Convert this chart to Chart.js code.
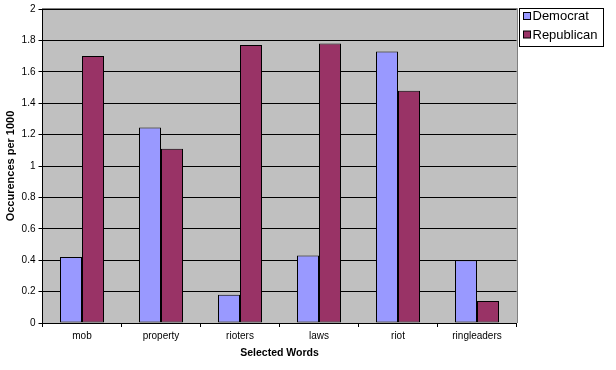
<!DOCTYPE html>
<html><head><meta charset="utf-8">
<script src="https://cdn.jsdelivr.net/npm/chart.js@4/dist/chart.umd.min.js"></script>
<style>html,body{margin:0;padding:0;background:#fff}#wrap{width:616px;height:370px}</style>
</head><body><div id="wrap"><canvas id="c" width="616" height="370"></canvas></div>
<script>
const categories = ["mob","property","rioters","laws","riot","ringleaders"];
const democrat = [0.42,1.245,0.18,0.43,1.73,0.40];
const republican = [1.70,1.11,1.77,1.78,1.48,0.14];
const yTicks = [0,0.2,0.4,0.6,0.8,1,1.2,1.4,1.6,1.8,2];

const FONT = '"Liberation Sans", Arial, sans-serif';

const bgPlugin = {
  id:'bg',
  beforeDraw(chart){
    const {ctx, chartArea:a} = chart;
    ctx.save();
    ctx.fillStyle = '#C0C0C0';
    ctx.fillRect(Math.floor(a.left), a.top, Math.ceil(a.right)-Math.floor(a.left), a.bottom-a.top);
    ctx.restore();
  },
  afterDraw(chart){
    const {ctx, chartArea:a} = chart;
    ctx.save();
    ctx.strokeStyle = '#808080';
    ctx.lineWidth = 1;
    ctx.beginPath();
    ctx.moveTo(Math.floor(a.left), Math.round(a.top)-0.5); ctx.lineTo(Math.ceil(a.right)+0.5, Math.round(a.top)-0.5); ctx.lineTo(Math.ceil(a.right)+0.5, a.bottom);
    ctx.stroke();
    // legend
    const x0=519.5, y0=8.5, w=84, h=38;
    ctx.fillStyle='#fff'; ctx.fillRect(x0,y0,w,h);
    ctx.strokeStyle='#000'; ctx.strokeRect(x0,y0,w,h);
    ctx.font = '13px ' + FONT;
    ctx.textBaseline='middle';
    chart.data.datasets.forEach((ds,i)=>{
      const cy = 16 + i*18.5;
      ctx.fillStyle=ds.backgroundColor; ctx.fillRect(x0+4, cy-3.5, 7, 7);
      ctx.strokeStyle='#000'; ctx.strokeRect(x0+4, cy-3.5, 7, 7);
      ctx.fillStyle='#000'; ctx.fillText(ds.label, x0+13, cy+0.5);
    });
    ctx.restore();
  }
};

new Chart(document.getElementById('c'), {
  type:'bar',
  data:{
    labels: categories,
    datasets:[
      {label:'Democrat', data: democrat, backgroundColor:'#9999FF', borderColor:'#000', borderWidth:1, borderSkipped:false},
      {label:'Republican', data: republican, backgroundColor:'#993366', borderColor:'#000', borderWidth:1, borderSkipped:false}
    ]
  },
  plugins:[bgPlugin],
  options:{
    responsive:false, animation:false, devicePixelRatio:1,
    layout:{padding:{top:9, right:99.5, left:4, bottom:11}},
    datasets:{bar:{barPercentage:1, categoryPercentage:44/79}},
    plugins:{legend:{display:false}, tooltip:{enabled:false}},
    scales:{
      x:{
        afterFit(s){ s.height = 36; },
        grid:{offset:true, drawOnChartArea:false, drawTicks:true, tickLength:4, color:'#000'},
        border:{color:'#000'},
        ticks:{color:'#000', font:{family:FONT, size:10}, padding:3},
        title:{display:true, text:'Selected Words', color:'#000', font:{family:FONT, size:10.5, weight:'bold'}, padding:{top:0,bottom:0}}
      },
      y:{
        min:0, max:2,
        afterFit(s){ s.width = 38.5; },
        afterBuildTicks(s){ s.ticks = yTicks.map(v=>({value:v})); },
        grid:{color:'#000', tickLength:4, drawTicks:true},
        border:{color:'#000'},
        ticks:{color:'#000', font:{family:FONT, size:10}, padding:3, callback:v=>String(v)},
        title:{display:true, text:'Occurences per 1000', color:'#000', font:{family:FONT, size:11, weight:'bold'}, padding:{top:0,bottom:0}}
      }
    }
  }
});
</script></body></html>
